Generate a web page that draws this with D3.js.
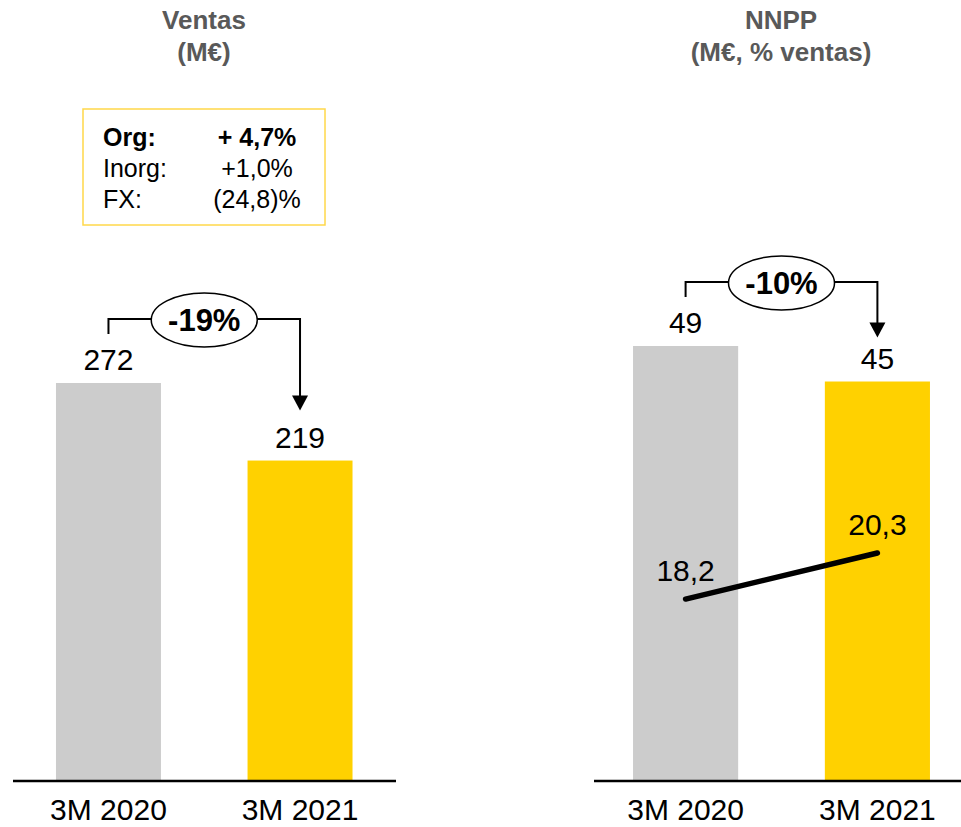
<!DOCTYPE html>
<html>
<head>
<meta charset="utf-8">
<script src="https://cdn.jsdelivr.net/npm/d3@7/dist/d3.min.js"></script>
<style>
  html, body { margin: 0; padding: 0; background: #fff; }
  svg { display: block; }
  text { font-family: "Liberation Sans", Arial, Helvetica, sans-serif; }
</style>
</head>
<body>
<svg id="chart" width="961" height="827"></svg>
<script>
// ---- data ----
const categories = ["3M 2020", "3M 2021"];
const ventasValues = [272, 219];
const ventasLabels = ["272", "219"];
const ventasChange = "-19%";
const nnppValues = [49, 45];
const nnppLabels = ["49", "45"];
const nnppChange = "-10%";
const marginPct = [18.2, 20.3];
const marginLabels = ["18,2", "20,3"];
const titlesLeft = ["Ventas", "(M€)"];
const titlesRight = ["NNPP", "(M€, % ventas)"];
const boxRows = [
  { name: "Org:", value: "+ 4,7%", bold: true },
  { name: "Inorg:", value: "+1,0%", bold: false },
  { name: "FX:", value: "(24,8)%", bold: false }
];
const barColors = ["#CCCCCC", "#FFD100"];

const svg = d3.select("#chart");
const baseY = 781;

function panel(opts) {
  const x = d3.scaleBand().domain(categories).range(opts.xRange)
    .paddingInner(0.452).paddingOuter(opts.padOuter);
  const y = d3.scaleLinear().domain([0, opts.yMax]).range([baseY, opts.yTop]);
  const g = svg.append("g");

  // titles
  g.selectAll("text.title").data(opts.titles).join("text")
    .attr("class", "title")
    .attr("x", opts.titleX)
    .attr("y", (d, i) => i === 0 ? 29 : 61)
    .attr("text-anchor", "middle")
    .attr("font-size", 26).attr("font-weight", "bold").attr("fill", "#595959")
    .text(d => d);

  // bars
  g.selectAll("rect.bar").data(opts.values).join("rect")
    .attr("class", "bar")
    .attr("x", (d, i) => x(categories[i]))
    .attr("width", x.bandwidth())
    .attr("y", d => y(d))
    .attr("height", d => baseY - y(d))
    .attr("fill", (d, i) => barColors[i]);

  // value labels
  g.selectAll("text.val").data(opts.values).join("text")
    .attr("class", "val")
    .attr("x", (d, i) => x(categories[i]) + x.bandwidth() / 2)
    .attr("y", d => y(d) - 13)
    .attr("text-anchor", "middle")
    .attr("font-size", 30).attr("fill", "#000")
    .text((d, i) => opts.labels[i]);

  // baseline
  g.append("line")
    .attr("x1", opts.axisLine[0]).attr("x2", opts.axisLine[1])
    .attr("y1", baseY).attr("y2", baseY)
    .attr("stroke", "#000").attr("stroke-width", 2.5);

  // category labels
  g.selectAll("text.cat").data(categories).join("text")
    .attr("class", "cat")
    .attr("x", d => x(d) + x.bandwidth() / 2)
    .attr("y", 820)
    .attr("text-anchor", "middle")
    .attr("font-size", 30).attr("fill", "#000")
    .text(d => d);

  // change bracket
  const c0 = x(categories[0]) + x.bandwidth() / 2;
  const c1 = x(categories[1]) + x.bandwidth() / 2;
  const by = y(opts.values[0]) - 64;
  const tipY = y(opts.values[1]) - opts.tipGap;
  g.append("path")
    .attr("d", `M${c0},${by + 15} L${c0},${by} L${c1},${by} L${c1},${tipY - 10}`)
    .attr("fill", "none").attr("stroke", "#000").attr("stroke-width", 2);
  g.append("path")
    .attr("d", `M${c1 - 8},${tipY - 15} L${c1 + 8},${tipY - 15} L${c1},${tipY} Z`)
    .attr("fill", "#000");
  const cx = (c0 + c1) / 2;
  g.append("ellipse")
    .attr("cx", cx).attr("cy", by + 1).attr("rx", 53).attr("ry", 27)
    .attr("fill", "#fff").attr("stroke", "#000").attr("stroke-width", 1.5);
  g.append("text")
    .attr("x", cx).attr("y", by + 12)
    .attr("text-anchor", "middle")
    .attr("font-size", 31).attr("font-weight", "bold").attr("fill", "#000")
    .text(opts.change);

  return { x, y, g };
}

// left panel: Ventas
const left = panel({
  xRange: [12.5, 396], padOuter: 0.227, yMax: 272, yTop: 383,
  values: ventasValues, labels: ventasLabels, change: ventasChange,
  titles: titlesLeft, titleX: 204, axisLine: [13, 396], tipGap: 50
});

// right panel: NNPP
const right = panel({
  xRange: [589.5, 973.5], padOuter: 0.227, yMax: 49, yTop: 346,
  values: nnppValues, labels: nnppLabels, change: nnppChange,
  titles: titlesRight, titleX: 781, axisLine: [594, 961], tipGap: 44
});

// margin line on right panel
const yPct = d3.scaleLinear().domain([0, 25]).range([998, 450]);
const cxR = d => right.x(d) + right.x.bandwidth() / 2;
const pts = categories.map((c, i) => [cxR(c), yPct(marginPct[i])]);
svg.append("path")
  .attr("d", d3.line()(pts))
  .attr("fill", "none").attr("stroke", "#000")
  .attr("stroke-width", 5.5).attr("stroke-linecap", "round");
svg.selectAll("text.pct").data(marginPct).join("text")
  .attr("class", "pct")
  .attr("x", (d, i) => cxR(categories[i]))
  .attr("y", d => yPct(d) - 18)
  .attr("text-anchor", "middle")
  .attr("font-size", 30).attr("fill", "#000")
  .text((d, i) => marginLabels[i]);

// info box
const box = svg.append("g");
box.append("rect")
  .attr("x", 83).attr("y", 109).attr("width", 242).attr("height", 116)
  .attr("fill", "#fff").attr("stroke", "#FFD84A").attr("stroke-width", 1.5);
const rowY = d3.scalePoint().domain(boxRows.map(r => r.name)).range([146, 208]);
box.selectAll("text.bn").data(boxRows).join("text")
  .attr("class", "bn")
  .attr("x", 103).attr("y", d => rowY(d.name))
  .attr("font-size", 25).attr("font-weight", d => d.bold ? "bold" : "normal")
  .attr("fill", "#000").text(d => d.name);
box.selectAll("text.bv").data(boxRows).join("text")
  .attr("class", "bv")
  .attr("x", 257).attr("y", d => rowY(d.name))
  .attr("text-anchor", "middle")
  .attr("font-size", 25).attr("font-weight", d => d.bold ? "bold" : "normal")
  .attr("fill", "#000").text(d => d.value);
</script>
</body>
</html>
